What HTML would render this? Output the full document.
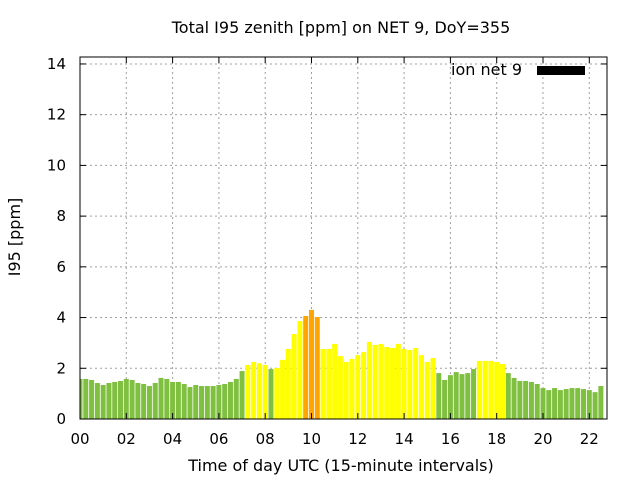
<!DOCTYPE html>
<html><head><meta charset="utf-8"><style>
body{margin:0;background:#fff}
svg{display:block}
text{font-family:"DejaVu Sans","Liberation Sans",sans-serif;fill:#000}
</style></head><body>
<svg id="s" width="640" height="480" viewBox="0 0 640 480" xmlns="http://www.w3.org/2000/svg">
<rect width="640" height="480" fill="#fff"/>
<g id="grid" stroke="#a0a0a0" stroke-width="1" stroke-dasharray="2,3"></g>
<g id="bars"></g>
<g id="ax" stroke="#000" stroke-width="1" fill="none"></g>
<g id="lab" font-size="15"></g>
<text x="341" y="33" font-size="16" text-anchor="middle">Total I95 zenith [ppm] on NET 9, DoY=355</text>
<text x="341" y="471" font-size="16" text-anchor="middle">Time of day UTC (15-minute intervals)</text>
<text x="20" y="237" font-size="16" text-anchor="middle" transform="rotate(-90 20 237)">I95 [ppm]</text>
<text x="522" y="75" font-size="16" text-anchor="end">ion net 9</text>
<rect x="537" y="66" width="48" height="9" fill="#000"/>
</svg>
<script>
var v=[1.58,1.58,1.54,1.42,1.34,1.42,1.46,1.5,1.58,1.54,1.42,1.38,1.3,1.42,1.62,1.58,1.46,1.46,1.38,1.26,1.34,1.3,1.3,1.3,1.34,1.38,1.46,1.58,1.89,2.13,2.25,2.2,2.13,1.97,2.01,2.33,2.76,3.35,3.86,4.06,4.3,4.02,2.76,2.76,2.96,2.48,2.25,2.37,2.52,2.64,3.04,2.92,2.96,2.84,2.8,2.96,2.76,2.72,2.8,2.52,2.25,2.4,1.81,1.54,1.73,1.85,1.77,1.81,1.97,2.29,2.29,2.29,2.25,2.17,1.81,1.62,1.5,1.5,1.46,1.38,1.22,1.14,1.22,1.14,1.18,1.22,1.22,1.18,1.14,1.06,1.3];
var ns="http://www.w3.org/2000/svg";
function el(p,t,a){var e=document.createElementNS(ns,t);for(var k in a)e.setAttribute(k,a[k]);p.appendChild(e);return e;}
var L=80,R=607,T=57,B=419,sx=23.15,sy=25.36;
var bars=document.getElementById('bars'),grid=document.getElementById('grid'),ax=document.getElementById('ax'),lab=document.getElementById('lab');
v.forEach(function(y,i){var c=L+i*sx/4;var x0=Math.max(L,c-2.5),x1=c+2.5;
var col=y>=4?'#ffa500':(y>=2?'#ffff00':'#80c040');
if(i==33)col='#80c040';if(i==34)col='#ffff00';
el(bars,'rect',{x:x0,y:B-y*sy,width:x1-x0,height:y*sy,fill:col});});
for(var h=0;h<=22;h+=2){var x=L+h*sx;
if(h>0)el(grid,'line',{x1:x,y1:T,x2:x,y2:B});
el(ax,'line',{x1:x,y1:B,x2:x,y2:B-6});el(ax,'line',{x1:x,y1:T,x2:x,y2:T+6});
var t=el(lab,'text',{x:x,y:444,'text-anchor':'middle'});t.textContent=(h<10?'0':'')+h;}
for(var y=0;y<=14;y+=2){var yy=B-y*sy;
if(y>0)el(grid,'line',{x1:L,y1:yy,x2:R,y2:yy});
el(ax,'line',{x1:L,y1:yy,x2:L+6,y2:yy});el(ax,'line',{x1:R,y1:yy,x2:R-6,y2:yy});
var t=el(lab,'text',{x:66,y:yy+5,'text-anchor':'end'});t.textContent=y;}
el(ax,'rect',{x:L,y:T,width:R-L,height:B-T});
</script>
</body></html>
